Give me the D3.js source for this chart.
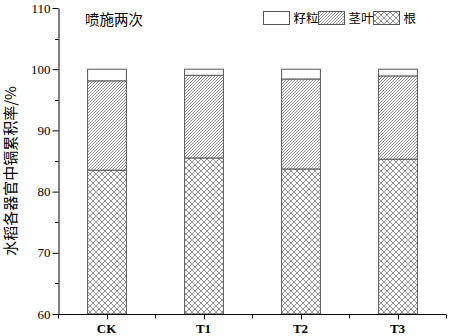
<!DOCTYPE html>
<html>
<head>
<meta charset="utf-8">
<script src="https://cdn.jsdelivr.net/npm/d3@7"></script>
<style>
  body { margin: 0; background: #fff; }
  svg { display: block; }
  .tick text { font-family: "Liberation Serif", "Times New Roman", serif; }
</style>
</head>
<body>
<svg id="mychart"></svg>
<script>
// data (percent of total Cd accumulation)
var categories = ["CK", "T1", "T2", "T3"];
var rootVals = [83.5, 85.5, 83.7, 85.3];   // 根
var stemVals = [14.6, 13.5, 14.7, 13.6];   // 茎叶
var seedVals = [1.9, 1.0, 1.6, 1.1];       // 籽粒
var seriesNames = ["籽粒", "茎叶", "根"];
var yTicks = [60, 70, 80, 90, 100, 110];

var width = 449, height = 336;
var margin = {top: 8, right: 3, bottom: 22, left: 58};

var svg = d3.select("#mychart")
  .attr("width", width)
  .attr("height", height);

// hatch patterns
var defs = svg.append("defs");
var diag = defs.append("pattern")
  .attr("id", "diag")
  .attr("patternUnits", "userSpaceOnUse")
  .attr("width", 3).attr("height", 3);
diag.append("rect").attr("width", 3).attr("height", 3).attr("fill", "#fff");
diag.append("path")
  .attr("d", "M-1,1 l2,-2 M0,3 l3,-3 M2,4 l2,-2")
  .attr("stroke", "#7a7a7a").attr("stroke-width", 0.8);

var cross = defs.append("pattern")
  .attr("id", "cross")
  .attr("patternUnits", "userSpaceOnUse")
  .attr("width", 6).attr("height", 6);
cross.append("rect").attr("width", 6).attr("height", 6).attr("fill", "#fff");
cross.append("path")
  .attr("d", "M0,0 L6,6 M6,0 L0,6")
  .attr("stroke", "#7a7a7a").attr("stroke-width", 0.8);

var fills = {"籽粒": "#fff", "茎叶": "url(#diag)", "根": "url(#cross)"};

var x = d3.scaleBand()
  .domain(categories)
  .range([margin.left, width - margin.right])
  .paddingInner(0.6)
  .paddingOuter(0.3);

var xb = d3.scaleLinear()
  .domain([0, categories.length])
  .range([margin.left, width - margin.right]);

var y = d3.scaleLinear()
  .domain([60, 110])
  .range([height - margin.bottom, margin.top]);

// stack data
var rows = categories.map(function(c, i) {
  return {cat: c, "根": rootVals[i], "茎叶": stemVals[i], "籽粒": seedVals[i]};
});
var stack = d3.stack().keys(["根", "茎叶", "籽粒"]);
var layers = stack(rows);

var g = svg.append("g");
layers.forEach(function(layer) {
  g.selectAll(null)
    .data(layer)
    .enter()
    .append("rect")
    .attr("x", function(d) { return x(d.data.cat) + 0.5; })
    .attr("width", x.bandwidth())
    .attr("y", function(d) { return y(d[1]); })
    .attr("height", function(d) { return Math.max(0, y(Math.max(d[0], 60)) - y(d[1])); })
    .attr("fill", fills[layer.key])
    .attr("stroke", "#555")
    .attr("stroke-width", 1);
});

// y axis
var yAxis = d3.axisLeft(y).tickValues(yTicks).tickSize(6).tickPadding(2).tickSizeOuter(0);
var ya = svg.append("g")
  .attr("transform", "translate(" + (margin.left + 0.5) + ",0)")
  .call(yAxis);
ya.selectAll(".tick text").attr("font-size", 13).attr("fill", "#000");
ya.select(".domain").attr("stroke", "#000");
// minor ticks
svg.append("g").selectAll("line")
  .data([65, 75, 85, 95, 105])
  .enter().append("line")
  .attr("x1", margin.left + 0.5).attr("x2", margin.left - 3)
  .attr("y1", function(d) { return Math.round(y(d)) + 0.5; })
  .attr("y2", function(d) { return Math.round(y(d)) + 0.5; })
  .attr("stroke", "#000");

// x axis: line with ticks at band boundaries, labels at band centers
var xg = svg.append("g")
  .attr("transform", "translate(0," + (height - margin.bottom + 0.5) + ")");
xg.append("line")
  .attr("x1", margin.left).attr("x2", width - margin.right)
  .attr("stroke", "#000");
xg.selectAll(".bt")
  .data(d3.range(categories.length + 1))
  .enter().append("line")
  .attr("x1", function(d) { return Math.round(xb(d)) + 0.5; })
  .attr("x2", function(d) { return Math.round(xb(d)) + 0.5; })
  .attr("y1", 0).attr("y2", 4)
  .attr("stroke", "#000");
xg.selectAll(".ct")
  .data(categories)
  .enter().append("line")
  .attr("x1", function(d) { return Math.round(x(d) + x.bandwidth() / 2) + 0.5; })
  .attr("x2", function(d) { return Math.round(x(d) + x.bandwidth() / 2) + 0.5; })
  .attr("y1", 0).attr("y2", 5)
  .attr("stroke", "#000");
xg.selectAll("text")
  .data(categories)
  .enter().append("text")
  .attr("x", function(d) { return x(d) + x.bandwidth() / 2; })
  .attr("y", 18)
  .attr("text-anchor", "middle")
  .attr("font-family", "Liberation Serif, serif")
  .attr("font-weight", "bold")
  .attr("font-size", 13)
  .text(function(d) { return d; });

// y label
svg.append("text")
  .attr("transform", "translate(16,171) rotate(-90)")
  .attr("text-anchor", "middle")
  .attr("font-family", "Noto Sans CJK SC, sans-serif")
  .attr("font-size", 15)
  .text("水稻各器官中镉累积率/%");

// title
svg.append("text")
  .attr("x", 85).attr("y", 25)
  .attr("font-family", "Noto Sans CJK SC, sans-serif")
  .attr("font-size", 14.5)
  .text("喷施两次");

// legend
var legendX = [263.5, 318.5, 373.5];
var lg = svg.append("g");
seriesNames.forEach(function(name, i) {
  lg.append("rect")
    .attr("x", legendX[i]).attr("y", 11.5)
    .attr("width", 26).attr("height", 13)
    .attr("fill", fills[name])
    .attr("stroke", "#555");
  lg.append("text")
    .attr("x", legendX[i] + 30).attr("y", 23)
    .attr("font-family", "Noto Sans CJK SC, sans-serif")
    .attr("font-size", 12.5)
    .text(name);
});
</script>
</body>
</html>
